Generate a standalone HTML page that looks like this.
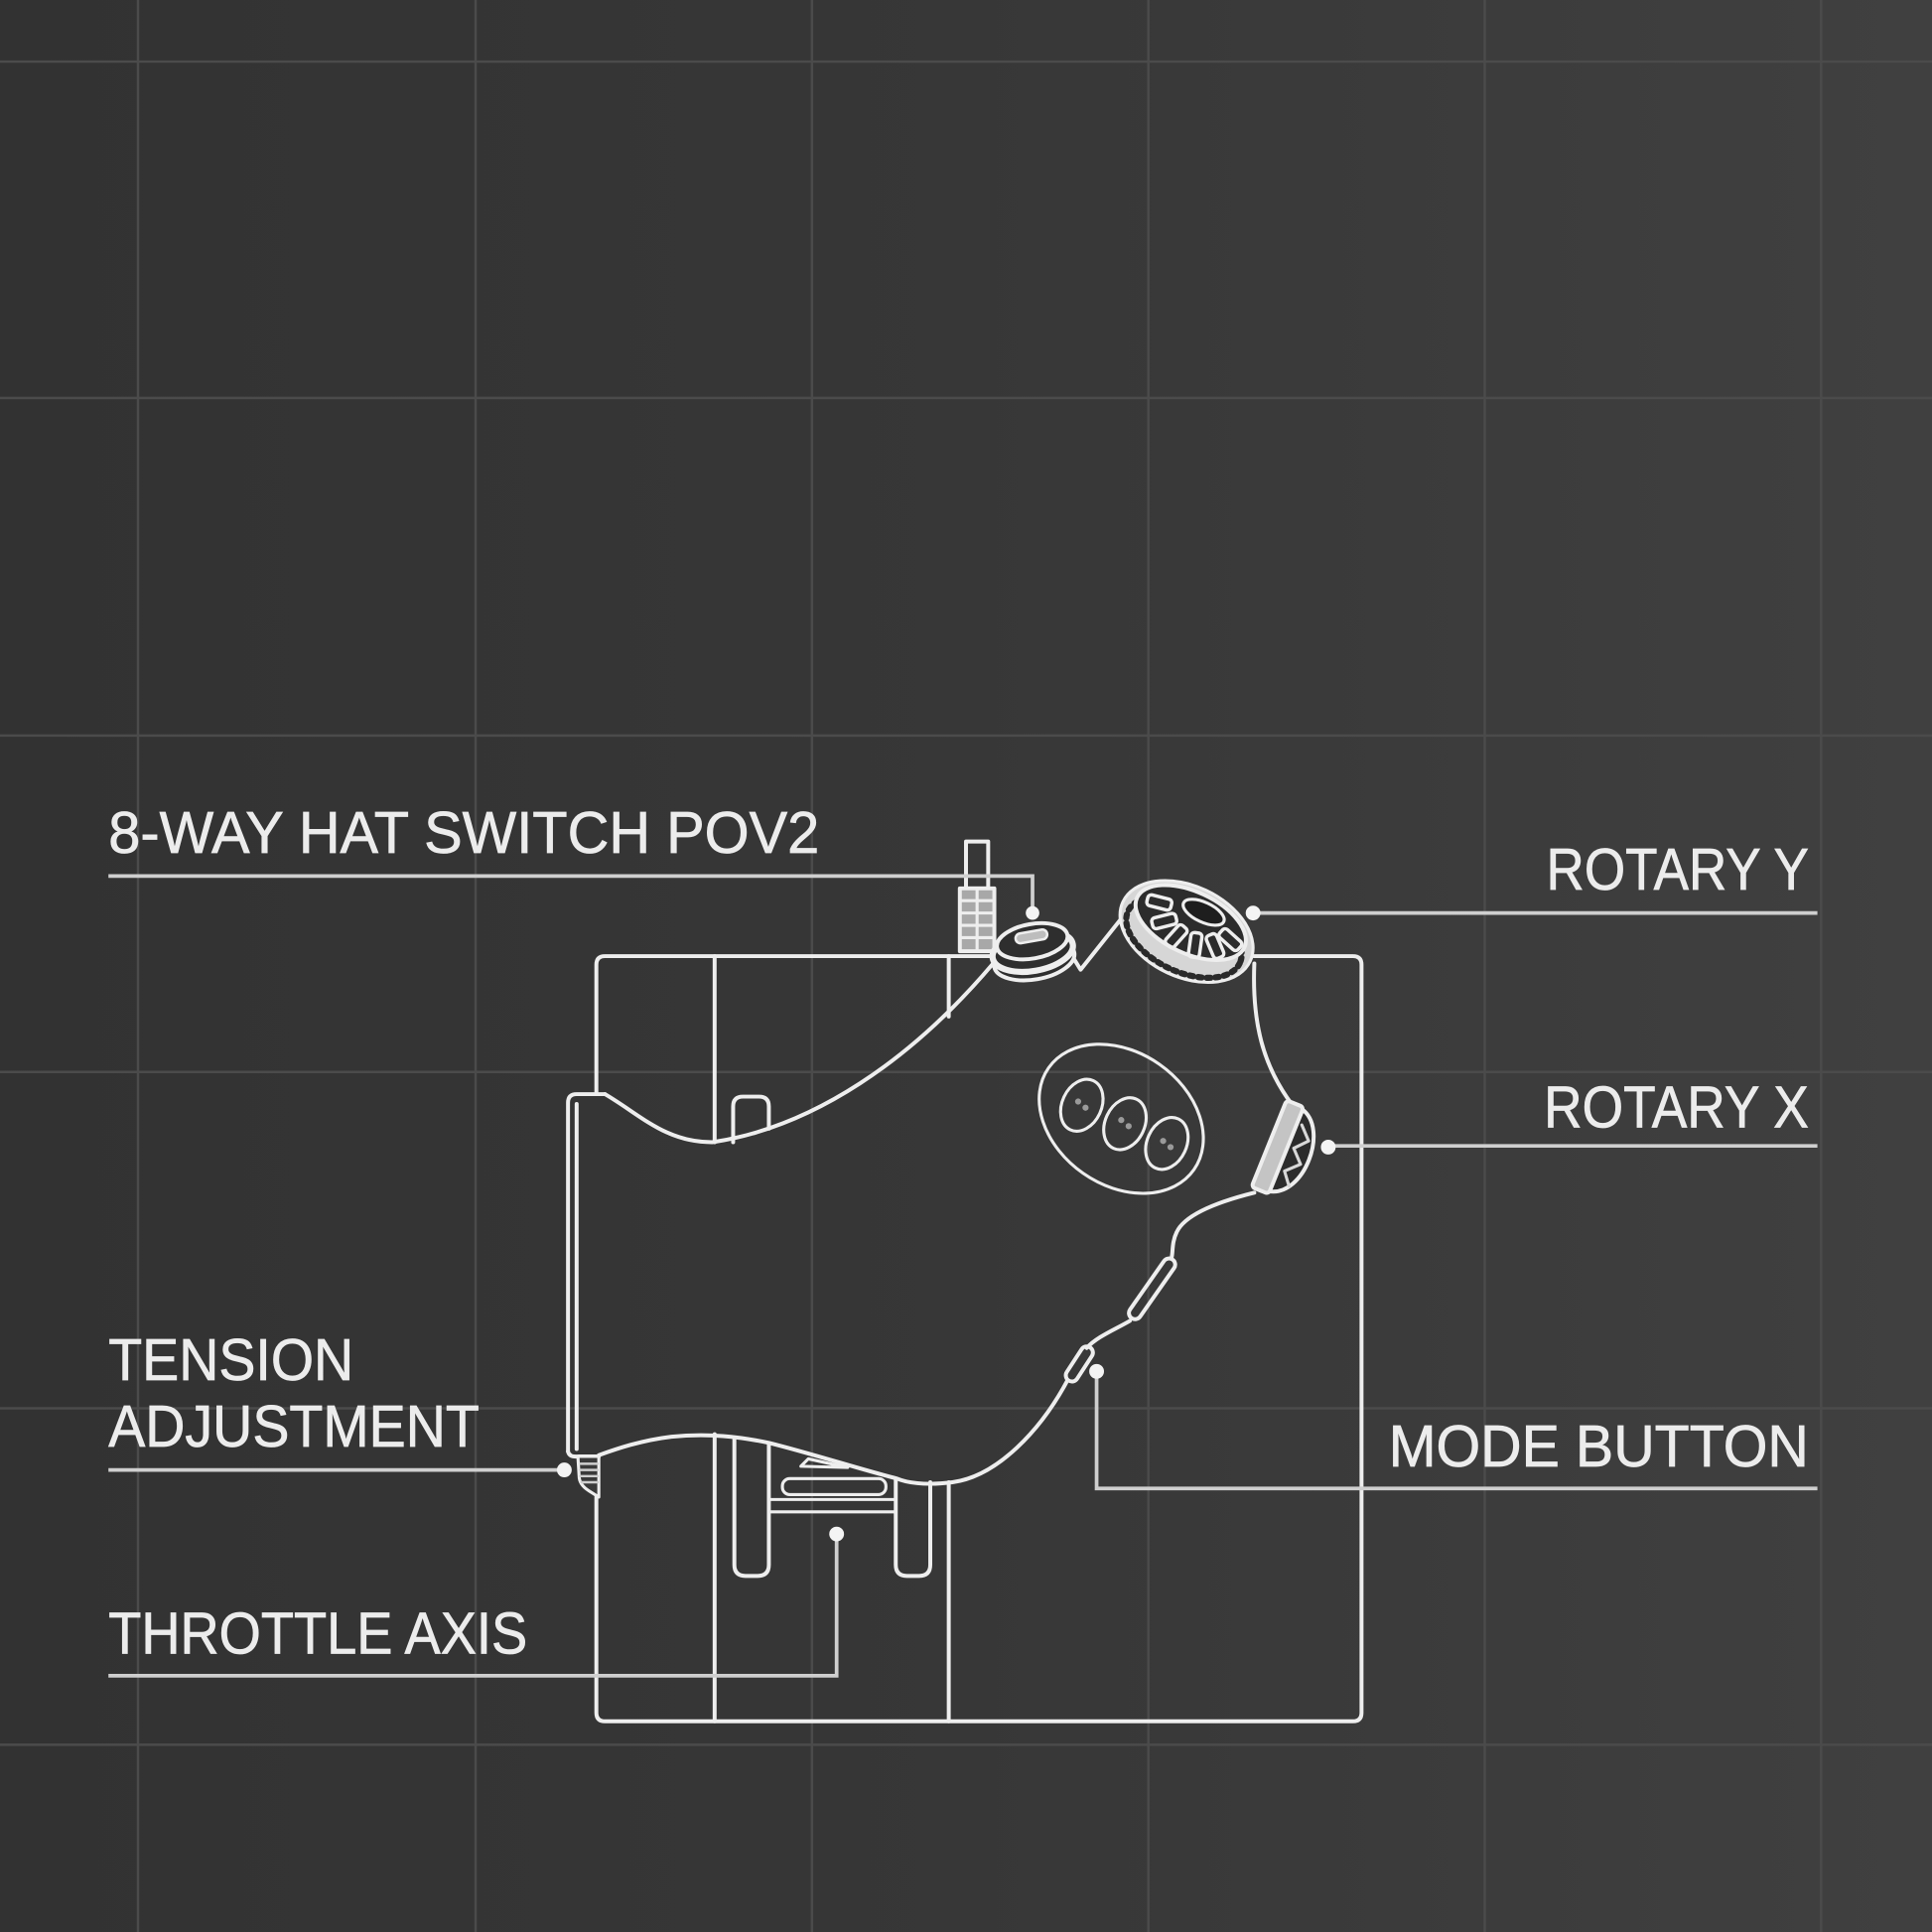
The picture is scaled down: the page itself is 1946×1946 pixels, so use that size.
<!DOCTYPE html>
<html><head><meta charset="utf-8"><style>
html,body{margin:0;padding:0;background:#383838;}
svg{display:block;}
</style></head><body>
<svg width="1946" height="1946" viewBox="0 0 1568 1568" xmlns="http://www.w3.org/2000/svg">
<defs>
<linearGradient id="bg" x1="0" y1="0" x2="1" y2="0">
<stop offset="0" stop-color="#323232"/>
<stop offset="0.5" stop-color="#373737"/>
<stop offset="1" stop-color="#404040"/>
</linearGradient>
</defs>
<rect width="1568" height="1568" fill="url(#bg)"/>
<g stroke="#4b4b4b" stroke-width="2">
<line x1="112" y1="0" x2="112" y2="1568"/>
<line x1="386" y1="0" x2="386" y2="1568"/>
<line x1="659" y1="0" x2="659" y2="1568"/>
<line x1="932" y1="0" x2="932" y2="1568"/>
<line x1="1205" y1="0" x2="1205" y2="1568"/>
<line x1="1478" y1="0" x2="1478" y2="1568"/>
<line x1="0" y1="50" x2="1568" y2="50"/>
<line x1="0" y1="323" x2="1568" y2="323"/>
<line x1="0" y1="597" x2="1568" y2="597"/>
<line x1="0" y1="870" x2="1568" y2="870"/>
<line x1="0" y1="1143" x2="1568" y2="1143"/>
<line x1="0" y1="1416" x2="1568" y2="1416"/>
</g>

<!-- labels -->
<g font-family="'Liberation Sans', sans-serif" font-size="48" fill="#ececec" stroke="#ececec" stroke-width="0.6">
<text x="88" y="692" textLength="577" lengthAdjust="spacingAndGlyphs">8-WAY HAT SWITCH POV2</text>
<text x="1255" y="722" textLength="213" lengthAdjust="spacingAndGlyphs">ROTARY Y</text>
<text x="1253" y="915" textLength="215" lengthAdjust="spacingAndGlyphs">ROTARY X</text>
<text x="1127" y="1190" textLength="341" lengthAdjust="spacingAndGlyphs">MODE BUTTON</text>
<text x="88" y="1120" textLength="199" lengthAdjust="spacingAndGlyphs">TENSION</text>
<text x="88" y="1174" textLength="301" lengthAdjust="spacingAndGlyphs">ADJUSTMENT</text>
<text x="88" y="1342" textLength="340" lengthAdjust="spacingAndGlyphs">THROTTLE AXIS</text>
</g>

<!-- device line art -->
<g fill="none" stroke="#eeeeee" stroke-width="3.2" stroke-linecap="round" stroke-linejoin="round">
<!-- base box -->
<path d="M484,888 V783 Q484,776 491,776 H806"/>
<path d="M1018,776 H1098 Q1105,776 1105,783 V1390 Q1105,1397 1098,1397 H491 Q484,1397 484,1390 V1215"/>
<path d="M580,776 V927 M580,1164 V1397 M770,776 V825 M770,1203 V1397"/>
<!-- upper slot -->
<path d="M595,927 V898 Q595,890 603,890 H616 Q624,890 624,898 V916"/>
<!-- grip left band -->
<path d="M461,1178 V895 Q461,888 468,888 H491"/>
<path d="M468,1176 V896"/>
<path d="M461,1178 Q462,1183 470,1182 H486"/>
<!-- grip top curve -->
<path d="M491,888 C520,905 540,927 578,927 C660,915 740,860 806,782"/>
<!-- V between knobs -->
<path d="M869,774 L877,787 L924,728"/>
<!-- right edge -->
<path d="M1018,782 C1016,830 1025,865 1049,897"/>
<path d="M1018,968 C990,975 962,985 955,1000 C951,1008 952,1016 951,1020"/>
<path d="M917,1072 C905,1079 890,1085 882,1094"/>
<!-- bottom curve -->
<path d="M866,1121 C845,1160 810,1198 773,1203 C750,1206 735,1203 728,1200 C700,1193 660,1180 624,1171 C600,1166 575,1163 545,1166 C520,1169 500,1176 486,1181"/>
<!-- mode slots -->
<g transform="translate(935,1046) rotate(-55)">
<rect x="-29" y="-5" width="58" height="10" rx="5"/>
</g>
<g transform="translate(876,1107) rotate(-57)">
<rect x="-16" y="-5" width="32" height="10" rx="5"/>
</g>
<!-- lower slots and parts -->
<path d="M596,1167 V1270 Q596,1279 605,1279 H615 Q624,1279 624,1270 V1172"/>
<path d="M727,1201 V1270 Q727,1279 736,1279 H746 Q755,1279 755,1270 V1203"/>
<path d="M650,1190 L656,1184 L688,1191 Z" stroke-width="2.5"/>
<rect x="635" y="1200" width="84" height="13" rx="6" stroke-width="2.5"/>
<path d="M624,1217 H727 M624,1227 H727" stroke-width="2.5"/>
<!-- tension block -->
<path d="M469,1182 H486 V1215 L478,1210 Q470,1205 470,1198 Z" fill="#3a3a3a" stroke-width="2.5"/>
<path d="M471,1188 H485 M471,1193 H485 M471,1198 H485 M472,1203 H485" stroke="#cfcfcf" stroke-width="2"/>
<!-- hat stick and ribbed block -->
<rect x="784" y="683" width="18" height="38"/>
<rect x="779" y="721" width="28" height="51" fill="#a8a8a8"/>
<path d="M779,731 H807 M779,741 H807 M779,751 H807 M779,761 H807 M793,721 V772" stroke-width="2.5"/>
<!-- hat knob -->
<g transform="rotate(-10 838 771)">
<ellipse cx="838" cy="779" rx="33" ry="16" fill="#2e2e2e"/>
<ellipse cx="838" cy="772" rx="33" ry="16" fill="#2e2e2e" stroke-width="5"/>
<ellipse cx="839" cy="764" rx="29" ry="14" fill="#2e2e2e"/>
<rect x="826" y="756" width="26" height="8" rx="4" fill="#bdbdbd" stroke-width="2"/>
</g>
<!-- rotary Y -->
<g transform="translate(963,756) rotate(25)">
<ellipse cx="0" cy="0" rx="57" ry="37" fill="#d6d6d6" stroke-width="2.5"/>
<ellipse cx="0" cy="5" rx="50" ry="28" stroke="#2a2a2a" stroke-width="5" stroke-dasharray="3 4"/>
<ellipse cx="0" cy="-8" rx="48" ry="25" fill="#2c2c2c"/>
<ellipse cx="6" cy="-20" rx="18" ry="8" fill="#1e1e1e" stroke-width="2.5"/>
<g stroke-width="2.8">
<rect x="-10" y="-4.5" width="20" height="9" rx="3" transform="translate(-30,-12) rotate(169)"/>
<rect x="-10" y="-4.5" width="20" height="9" rx="3" transform="translate(-20,0) rotate(141)"/>
<rect x="-10" y="-4.5" width="20" height="9" rx="3" transform="translate(-6,7) rotate(107)"/>
<rect x="-10" y="-4.5" width="20" height="9" rx="3" transform="translate(11,7) rotate(73)"/>
<rect x="-10" y="-4.5" width="20" height="9" rx="3" transform="translate(26,1) rotate(42)"/>
<rect x="-10" y="-4.5" width="20" height="9" rx="3" transform="translate(35,-9) rotate(17)"/>
</g>
</g>
<!-- rotary X -->
<g transform="translate(1042,933) rotate(22)">
<path d="M1,-36 C28,-30 30,30 1,36 Z" fill="#2c2c2c"/>
<path d="M6,-24 L16,-14 L7,-4 L17,6 L7,16 L15,26" stroke="#d8d8d8" stroke-width="2.5"/>
<rect x="-13" y="-38" width="15" height="76" rx="3" fill="#c4c4c4"/>
</g>
<!-- button cluster -->
<ellipse cx="910" cy="908" rx="72" ry="54" transform="rotate(35 910 908)" stroke-width="2.5"/>
<ellipse cx="878" cy="897" rx="16" ry="22" transform="rotate(25 878 897)" stroke-width="2.5"/>
<ellipse cx="913" cy="912" rx="16" ry="22" transform="rotate(25 913 912)" stroke-width="2.5"/>
<ellipse cx="947" cy="928" rx="16" ry="22" transform="rotate(25 947 928)" stroke-width="2.5"/>
</g>
<g fill="#9a9a9a">
<circle cx="875" cy="894" r="2.5"/><circle cx="881" cy="899" r="2.5"/>
<circle cx="910" cy="909" r="2.5"/><circle cx="916" cy="914" r="2.5"/>
<circle cx="944" cy="926" r="2.5"/><circle cx="950" cy="931" r="2.5"/>
</g>

<!-- leader lines -->
<g fill="none" stroke="#cfcfcf" stroke-width="3">
<path d="M88,711 H838 V740"/>
<path d="M1475,741 H1017"/>
<path d="M1475,930 H1078"/>
<path d="M1475,1208 H890 V1113"/>
<path d="M88,1193 H458"/>
<path d="M88,1360 H679 V1245"/>
</g>
<g fill="#f4f4f4">
<circle cx="838" cy="741" r="5.5"/>
<circle cx="1017" cy="741" r="6"/>
<circle cx="1078" cy="931" r="6"/>
<circle cx="890" cy="1113" r="6"/>
<circle cx="458" cy="1193" r="6"/>
<circle cx="679" cy="1245" r="6"/>
</g>
</svg>
</body></html>
